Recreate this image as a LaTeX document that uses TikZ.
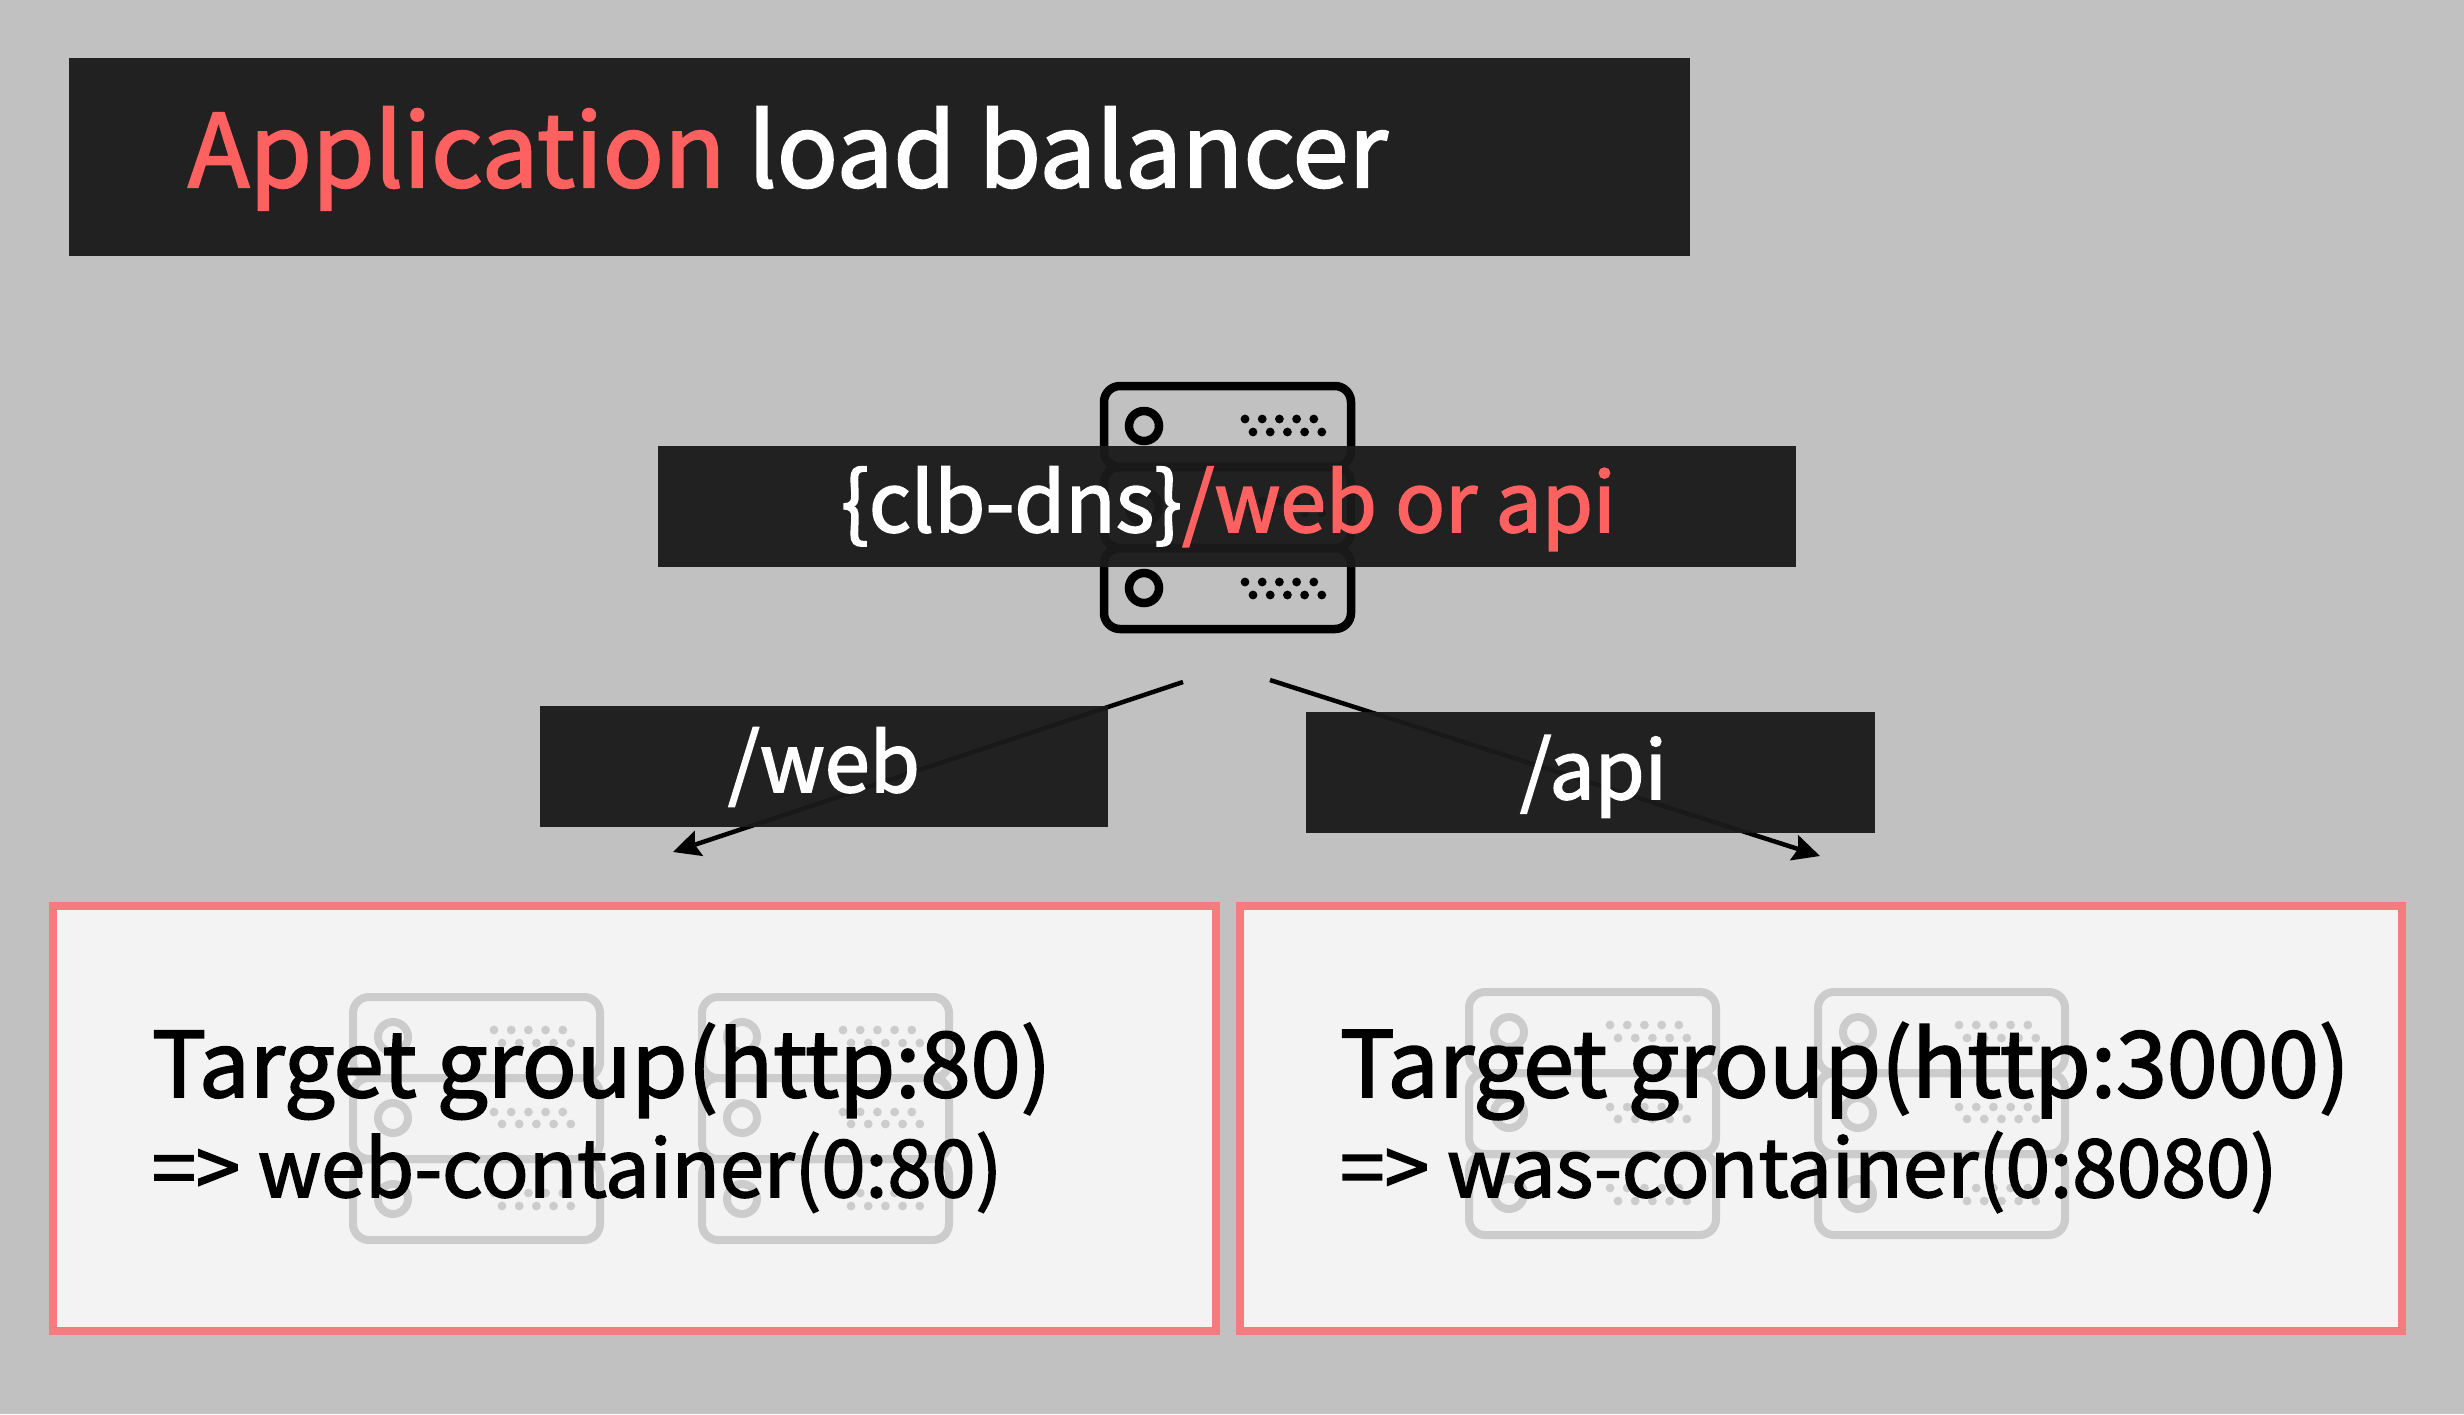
\documentclass[tikz,border=0pt]{standalone}
\usepackage{fontspec}
\setmainfont[FakeBold=2]{Noto Sans CJK KR}
\usetikzlibrary{arrows.meta}
\definecolor{bgc}{HTML}{C1C1C1}
\definecolor{barc}{HTML}{1B1B1B}
\definecolor{redc}{HTML}{FF6161}
\definecolor{edgec}{HTML}{F57B7F}
\definecolor{panelc}{HTML}{F3F3F4}
\definecolor{fadec}{HTML}{CCCCCC}
\tikzset{
 x=1pt,y=-1pt,
 bar/.style={fill=barc,fill opacity=0.96,draw=none,inner sep=0,outer sep=0},
 panel/.style={fill=panelc,draw=edgec,line width=8pt,inner sep=0,outer sep=0},
 lab/.style={anchor=base west,inner sep=0,outer sep=0,text=#1},
 lab/.default=black,
 flow/.style={line width=4.5pt,draw=black,-{Stealth[length=27pt,width=26pt,inset=4pt]},shorten >=0pt,shorten <=0pt},
}
\newcommand{\srvicon}[5]{% x, y, scale, colour, line width
 \begin{scope}[shift={(#1,#2)},scale=#3,#4,line width=#5]
  \foreach \t/\b in {4/85,85/166,166/247}{
   \draw[rounded corners=16pt] (4,\t) rectangle (251,\b);
  }
  \foreach \c/\ra/\rb in {44/37/50,125/119/131,206/200/213}{
   \draw (44,\c) circle[radius=15];
   \foreach \k in {0,1,2,3,4}{
    \fill ({145+17.2*\k},\ra) circle[radius=4.4];
    \fill ({153+17.2*\k},\rb) circle[radius=4.4];
   }
  }
 \end{scope}
}
\begin{document}
\begin{tikzpicture}
\useasboundingbox (0,0) rectangle (2464,1414);
\fill[bgc] (0,0) rectangle (2464,1414);
% panels
\node[panel,minimum width=1163pt,minimum height=425pt] (leftpanel) at (634.5,1118.5) {};
\node[panel,minimum width=1162pt,minimum height=425pt] (rightpanel) at (1821,1118.5) {};
% faded servers
\srvicon{349}{993}{1}{fadec}{8pt}
\srvicon{698}{993}{1}{fadec}{8pt}
\srvicon{1465}{988}{1}{fadec}{8pt}
\srvicon{1814}{988}{1}{fadec}{8pt}
% main server
\srvicon{1100}{382}{1}{black}{8.5pt}
% connectors
\coordinate (webstart) at (1183,682);
\coordinate (webtip) at (673,852);
\coordinate (apistart) at (1270,680);
\coordinate (apitip) at (1820,856);
\draw[flow] (webstart) -- (webtip);
\draw[flow] (apistart) -- (apitip);
% bars
\node[bar,minimum width=1621pt,minimum height=198pt] (titlebar) at (879.5,157) {};
\node[bar,minimum width=1138pt,minimum height=121pt] (dnsbar) at (1227,506.5) {};
\node[bar,minimum width=568pt,minimum height=121pt] (webbar) at (824,766.5) {};
\node[bar,minimum width=569pt,minimum height=121pt] (apibar) at (1590.5,772) {};
% text
\node[lab=white,font=\fontsize{101}{101}\selectfont] (titletext) at (188,187) {\textcolor{redc}{Application} load balancer};
\node[lab=white,font=\fontsize{82.4}{82.4}\selectfont] (dnstext) at (841,532) {\{clb-dns\}\textcolor{redc}{/web or api}};
\node[lab=white,font=\fontsize{81.2}{81.2}\selectfont] (webtext) at (728,792) {/web};
\node[lab=white,font=\fontsize{80.5}{80.5}\selectfont] (apitext) at (1520,799) {/api};
\node[lab,font=\fontsize{90.4}{90.4}\selectfont] (tg1) at (152,1097) {Target group(http:80)};
\node[lab,font=\fontsize{79.3}{79.3}\selectfont] (wc1) at (152,1197) {=> web-container(0:80)};
\node[lab,font=\fontsize{91.3}{91.3}\selectfont] (tg2) at (1340,1097) {Target group(http:3000)};
\node[lab,font=\fontsize{80.2}{80.2}\selectfont] (wc2) at (1340,1197) {=> was-container(0:8080)};
\end{tikzpicture}
\end{document}
